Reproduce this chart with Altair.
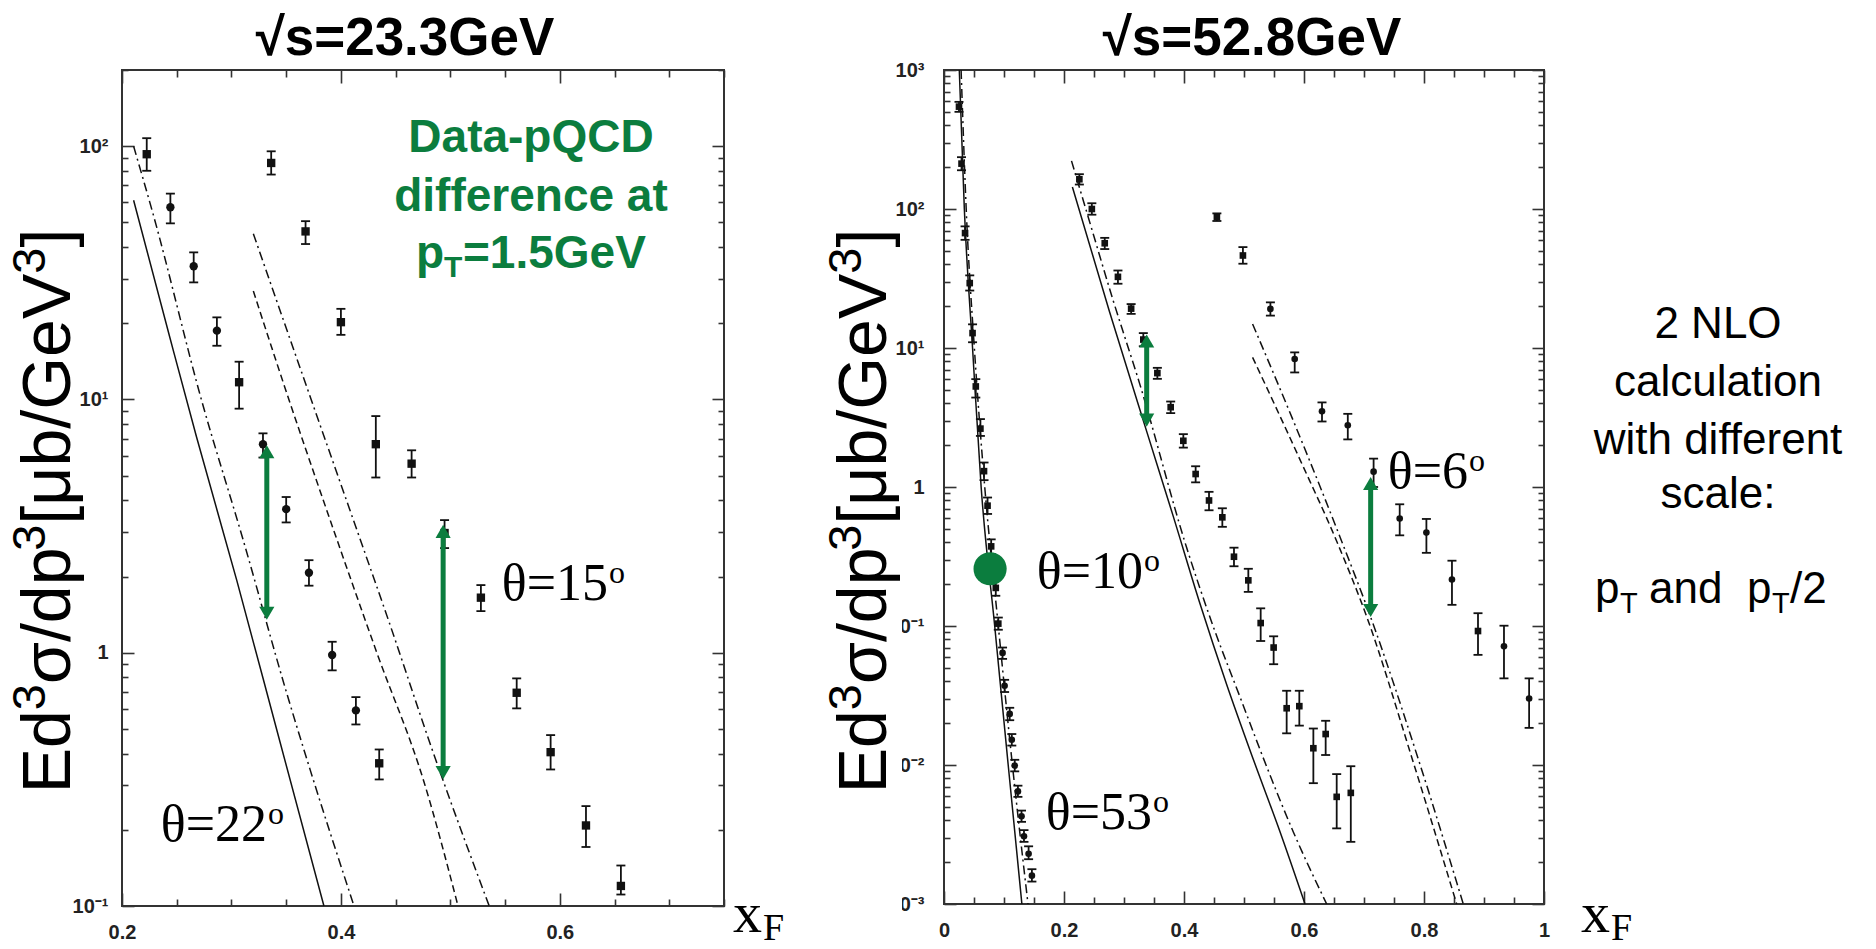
import altair as alt
import pandas as pd

INK = "#111111"
GREEN = "#0b7d3e"
SANS = "Liberation Sans"
SERIF = "Liberation Serif"

# ======================= LEFT PANEL : sqrt(s) = 23.3 GeV =======================
L_XDOM = [0.2, 0.75]
L_YDOM = [0.1, 200]
L_XTICKS = [0.2, 0.25, 0.3, 0.35, 0.4, 0.45, 0.5, 0.55, 0.6, 0.65, 0.7, 0.75]
L_YTICKS = [0.1, 0.2, 0.3, 0.4, 0.5, 0.6, 0.7, 0.8, 0.9, 1, 2, 3, 4, 5, 6, 7, 8, 9,
            10, 20, 30, 40, 50, 60, 70, 80, 90, 100, 200]

# theta = 22 deg data
l22_x = [0.2226, 0.2442, 0.2655, 0.2867, 0.3070, 0.3288, 0.3500, 0.3708, 0.3920, 0.4137, 0.4350]
l22_y = [93.0, 57.4, 33.6, 18.7, 11.7, 6.66, 3.69, 2.07, 0.98, 0.592, 0.366]
l22_lo = [80.0, 49.6, 29.0, 16.3, 9.2, 5.90, 3.27, 1.84, 0.852, 0.521, 0.316]
l22_hi = [107.6, 65.0, 38.1, 21.1, 14.1, 7.35, 4.12, 2.32, 1.105, 0.668, 0.415]
l22_shape = ["square", "circle", "circle", "circle", "square", "circle",
             "circle", "circle", "circle", "circle", "square"]
# theta = 15 deg data
l15_x = [0.3363, 0.3677, 0.4000, 0.4319, 0.4646, 0.4947, 0.5279, 0.5606, 0.5916, 0.6239, 0.6558]
l15_y = [85.9, 46.1, 20.2, 6.66, 5.58, 2.97, 1.65, 0.695, 0.405, 0.208, 0.120]
l15_lo = [77.3, 41.1, 18.0, 4.92, 4.92, 2.59, 1.46, 0.603, 0.346, 0.171, 0.111]
l15_hi = [95.5, 50.6, 22.8, 8.60, 6.30, 3.34, 1.85, 0.792, 0.473, 0.248, 0.1445]
l15_shape = ["square"] * 11

# NLO curves (left)
l22s_x = [0.2106, 0.2436, 0.2681, 0.3048, 0.3415, 0.3845]
l22s_y = [61.2, 17.66, 7.11, 1.936, 0.494, 0.100]
l22d_x = [0.2106, 0.2283, 0.2727, 0.3108, 0.3506, 0.3720, 0.4120]
l22d_y = [100.0, 54.2, 9.93, 2.78, 0.690, 0.344, 0.100]
l15u_x = [0.3200, 0.3690, 0.4087, 0.4454, 0.4821, 0.5355]
l15u_y = [45.1, 11.14, 3.61, 1.27, 0.430, 0.100]
l15l_x = [0.3200, 0.3475, 0.3904, 0.4332, 0.4760, 0.5070]
l15l_y = [26.8, 11.6, 3.32, 0.99, 0.308, 0.100]

# green arrows (left)
la_x = [0.3323, 0.4934]
la_top = [6.6, 3.2]
la_bot = [1.35, 0.317]

# ======================= RIGHT PANEL : sqrt(s) = 52.8 GeV =======================
R_XDOM = [0.0, 1.0]
R_YDOM = [0.001, 1000]
R_XTICKS = [0, 0.05, 0.1, 0.15, 0.2, 0.25, 0.3, 0.35, 0.4, 0.45, 0.5, 0.55, 0.6,
            0.65, 0.7, 0.75, 0.8, 0.85, 0.9, 0.95, 1.0]
R_YTICKS = [0.001, 0.002, 0.003, 0.004, 0.005, 0.006, 0.007, 0.008, 0.009,
            0.01, 0.02, 0.03, 0.04, 0.05, 0.06, 0.07, 0.08, 0.09,
            0.1, 0.2, 0.3, 0.4, 0.5, 0.6, 0.7, 0.8, 0.9,
            1, 2, 3, 4, 5, 6, 7, 8, 9, 10, 20, 30, 40, 50, 60, 70, 80, 90,
            100, 200, 300, 400, 500, 600, 700, 800, 900, 1000]

# theta = 53 deg
r53_x = [0.0250, 0.0292, 0.0351, 0.0429, 0.0476, 0.0530, 0.0607, 0.0667, 0.0726, 0.0786, 0.0863,
         0.0905, 0.0976, 0.1010, 0.1095, 0.1130, 0.1179, 0.1232, 0.1292, 0.1333, 0.1410, 0.1465]
r53_y = [545, 212, 67.1, 29.3, 12.8, 5.29, 2.63, 1.30, 0.734, 0.374, 0.188,
         0.104, 0.064, 0.0372, 0.0233, 0.0152, 0.0099, 0.00646, 0.00427, 0.00307, 0.0023, 0.0016]
r53_lo = [500, 190, 60, 25.9, 11.0, 4.4, 2.33, 1.12, 0.64, 0.33, 0.165,
          0.094, 0.058, 0.0335, 0.021, 0.0138, 0.0090, 0.0059, 0.0039, 0.0028, 0.0021, 0.00145]
r53_hi = [590, 236, 75, 33.3, 14.8, 5.97, 3.08, 1.50, 0.84, 0.42, 0.212,
          0.115, 0.070, 0.041, 0.0258, 0.0167, 0.0109, 0.0071, 0.0047, 0.0034, 0.0026, 0.00178]
r53_shape = ["square"] * 12 + ["circle"] * 10
# theta = 10 deg
r10_x = [0.2256, 0.2464, 0.2679, 0.2899, 0.3119, 0.3322, 0.3556, 0.3778, 0.3989, 0.4194, 0.4417,
         0.4639, 0.4833, 0.5072, 0.5278, 0.5494, 0.5711, 0.5922, 0.6156, 0.6361, 0.6545, 0.6780]
r10_y = [163.7, 100, 56.7, 32.5, 19.2, 11.5, 6.6, 3.75, 2.15, 1.24, 0.80,
         0.605, 0.315, 0.213, 0.105, 0.070, 0.0256, 0.0265, 0.0132, 0.0167, 0.0059, 0.0063]
r10_lo = [150, 91, 51.5, 29.0, 17.6, 10.3, 6.0, 3.4, 1.92, 1.08, 0.68,
          0.517, 0.269, 0.176, 0.078, 0.0531, 0.0169, 0.0192, 0.0074, 0.0118, 0.0035, 0.0028]
r10_hi = [178, 110, 62, 36.1, 20.7, 12.8, 7.2, 4.12, 2.4, 1.41, 0.923,
          0.703, 0.366, 0.258, 0.134, 0.0843, 0.0342, 0.0342, 0.0183, 0.0208, 0.0086, 0.0098]
r10_shape = ["square"] * 22
# theta = 6 deg
r6_x = [0.4548, 0.4982, 0.5440, 0.5845, 0.6300, 0.6730, 0.7160, 0.7595, 0.8040, 0.8466, 0.8900, 0.9333, 0.9752]
r6_y = [87.5, 46.3, 19.1, 8.34, 3.50, 2.78, 1.29, 0.594, 0.470, 0.216, 0.092, 0.0714, 0.0301]
r6_lo = [82, 40.4, 17.1, 6.67, 2.96, 2.20, 1.00, 0.449, 0.336, 0.142, 0.062, 0.042, 0.0185]
r6_hi = [93, 53.2, 21.3, 9.30, 4.06, 3.36, 1.60, 0.751, 0.589, 0.295, 0.1236, 0.1005, 0.042]
r6_shape = ["square", "square", "circle", "circle", "circle", "circle", "circle",
            "circle", "circle", "circle", "square", "circle", "circle"]

# NLO curves (right)
r53s_x = [0.0255, 0.0339, 0.0476, 0.0619, 0.0845, 0.1070, 0.1298]
r53s_y = [1000, 100, 10, 1, 0.1, 0.01, 0.001]
r53d_x = [0.0285, 0.0370, 0.0506, 0.0679, 0.0905, 0.1140, 0.1400]
r53d_y = [1000, 100, 10, 1, 0.1, 0.01, 0.001]
r10s_x = [0.2140, 0.2760, 0.3378, 0.3820, 0.4267, 0.4711, 0.5156, 0.5600, 0.6017]
r10s_y = [143.9, 18.16, 2.512, 0.617, 0.1445, 0.0380, 0.01096, 0.00331, 0.001]
r10d_x = [0.2125, 0.2378, 0.2822, 0.3267, 0.4045, 0.4490, 0.4933, 0.5378, 0.5822, 0.6378]
r10d_y = [222, 95.3, 21.8, 5.43, 0.365, 0.0984, 0.0309, 0.00973, 0.0033, 0.001]
r6u_x = [0.5143, 0.5933, 0.6600, 0.7123, 0.7900, 0.8655]
r6u_y = [14.9, 2.29, 0.437, 0.112, 0.0112, 0.001]
r6l_x = [0.5143, 0.5933, 0.6545, 0.7060, 0.7800, 0.8545]
r6l_y = [8.57, 1.574, 0.407, 0.112, 0.0112, 0.001]

# green arrows / marker (right)
ra_x = [0.3378, 0.7111]
ra_top = [12.5, 1.18]
ra_bot = [2.72, 0.116]
rc_x = [0.0768]
rc_y = [0.258]

# ======================= helpers =======================
DEC = "abs(log(datum.value)/LN10 - round(log(datum.value)/LN10)) < 0.001"
MAJX = "abs(datum.value*5 - round(datum.value*5)) < 0.001"
YLAB = ("(" + DEC + ") ? (datum.value > 999 ? '10³' : datum.value > 99 ? '10²' : "
        "datum.value > 9.9 ? '10¹' : datum.value > 0.99 ? '1' : datum.value > 0.099 ? '10⁻¹' : "
        "datum.value > 0.0099 ? '10⁻²' : '10⁻³') : ''")
XLAB = ("(" + MAJX + ") ? (datum.value < 0.01 ? '0' : datum.value > 0.99 ? '1' : "
        "format(datum.value, '.1f')) : ''")

AX = dict(domain=False, grid=False, ticks=True, tickColor="#333333", tickWidth=1.6,
          labelFont=SANS, labelFontSize=20, labelFontWeight="bold", labelColor="#222222",
          labelFlush=False, labelOverlap=False, title=None)


def series_df(xs, ys, los, his, shapes):
    return pd.DataFrame({"x": xs, "y": ys, "lo": los, "hi": his, "shape": shapes})


def line_df(curves):
    rows = []
    for cid, style, xs, ys in curves:
        for a, b in zip(xs, ys):
            rows.append({"x": a, "y": b, "curve": cid, "style": style})
    return pd.DataFrame(rows)


def texts(rows, **kw):
    df = pd.DataFrame(rows, columns=["px", "py", "t"])
    return alt.Chart(df).mark_text(**kw).encode(
        x=alt.X("px:Q", scale=None, axis=None),
        y=alt.Y("py:Q", scale=None, axis=None),
        text="t:N")


def theta_label(x_right, baseline, main):
    a = texts([(x_right, baseline, main)], font=SERIF, fontSize=52, color="black",
              align="right", baseline="alphabetic")
    b = texts([(x_right + 1, baseline - 17, "o")], font=SERIF, fontSize=32, color="black",
              align="left", baseline="alphabetic")
    return [a, b]


# rotated y-axis title "Ed3σ/dp3[μb/GeV3]" built from pieces (reads bottom to top)
YT_SIZE, YT_SUP = 68, 47
YT_PIECES = [("Ed", False, 1.223), ("3", True, 0.556), ("σ/dp", False, 1.961), ("3", True, 0.556),
             ("[μb/GeV", False, 3.689), ("3", True, 0.556), ("]", False, 0.278)]


def ytitle(x_base, y_center):
    total = sum(w * (YT_SUP if sup else YT_SIZE) for _, sup, w in YT_PIECES)
    y = y_center + total / 2.0
    main_rows, sup_rows = [], []
    for t, sup, w in YT_PIECES:
        if sup:
            sup_rows.append((x_base - 25, y, t))
            y -= w * YT_SUP
        else:
            main_rows.append((x_base, y, t))
            y -= w * YT_SIZE
    return [
        texts(main_rows, font=SANS, fontSize=YT_SIZE, color="black", angle=270,
              align="left", baseline="alphabetic"),
        texts(sup_rows, font=SANS, fontSize=YT_SUP, color="black", angle=270,
              align="left", baseline="alphabetic"),
    ]


def panel(pts, lines, arrows, xdom, ydom, xticks, yticks, W, H, ylpad, extra, msize, blob=None):
    xs = alt.Scale(domain=xdom, nice=False, zero=False)
    ys = alt.Scale(type="log", domain=ydom, nice=False)
    tx = {"expr": "(" + MAJX + ") ? -13 : -7"}
    ty = {"expr": "(" + DEC + ") ? -12 : -6"}
    ax_b = alt.Axis(orient="bottom", values=xticks, labelExpr=XLAB, tickSize=tx,
                    labelPadding=29, **AX)
    ax_t = alt.Axis(orient="top", values=xticks, labels=False, tickSize=tx, **AX)
    ax_l = alt.Axis(orient="left", values=yticks, labelExpr=YLAB, tickSize=ty,
                    labelPadding=ylpad, **AX)
    ax_r = alt.Axis(orient="right", values=yticks, labels=False, tickSize=ty, **AX)

    base = alt.Chart(pts)
    bars = base.mark_rule(color=INK, strokeWidth=1.8).encode(
        x=alt.X("x:Q", scale=xs, axis=ax_b),
        y=alt.Y("lo:Q", scale=ys, axis=ax_l),
        y2="hi:Q")
    marks = base.mark_point(filled=True, color=INK, opacity=1).encode(
        x=alt.X("x:Q", scale=xs, axis=ax_t),
        y=alt.Y("y:Q", scale=ys, axis=ax_r),
        shape=alt.Shape("shape:N", scale=None),
        size=alt.value(msize))
    caps_df = pd.concat([pts[["x", "lo"]].rename(columns={"lo": "v"}),
                         pts[["x", "hi"]].rename(columns={"hi": "v"})])
    caps = alt.Chart(caps_df).mark_rule(color=INK, strokeWidth=1.8, xOffset=-4.5, x2Offset=4.5).encode(
        x=alt.X("x:Q", scale=xs, axis=None), x2="x:Q",
        y=alt.Y("v:Q", scale=ys, axis=None))

    layers = [bars, marks, caps]
    dashes = {"solid": None, "dash": [7, 4], "dashdot": [9, 4, 2, 4]}
    for style, dash in dashes.items():
        sub = lines[lines["style"] == style]
        if len(sub) == 0:
            continue
        kw = dict(color=INK, strokeWidth=1.5, clip=True, interpolate="monotone")
        if dash:
            kw["strokeDash"] = dash
        layers.append(alt.Chart(sub).mark_line(**kw).encode(
            x=alt.X("x:Q", scale=xs, axis=None),
            y=alt.Y("y:Q", scale=ys, axis=None),
            detail="curve:N"))

    adf = arrows
    layers.append(alt.Chart(adf).mark_rule(color=GREEN, strokeWidth=5, yOffset=10, y2Offset=-10).encode(
        x=alt.X("x:Q", scale=xs, axis=None),
        y=alt.Y("top:Q", scale=ys, axis=None), y2="bot:Q"))
    layers.append(alt.Chart(adf).mark_point(shape="triangle-up", filled=True, opacity=1, size=230,
                                            color=GREEN, yOffset=6.5).encode(
        x=alt.X("x:Q", scale=xs, axis=None), y=alt.Y("top:Q", scale=ys, axis=None)))
    layers.append(alt.Chart(adf).mark_point(shape="triangle-down", filled=True, opacity=1, size=230,
                                            color=GREEN, yOffset=-6.5).encode(
        x=alt.X("x:Q", scale=xs, axis=None), y=alt.Y("bot:Q", scale=ys, axis=None)))
    if blob is not None:
        layers.append(alt.Chart(blob).mark_point(shape="circle", filled=True, opacity=1, size=1100,
                                                 color=GREEN).encode(
            x=alt.X("x:Q", scale=xs, axis=None), y=alt.Y("y:Q", scale=ys, axis=None)))
    layers += extra
    return alt.layer(*layers).resolve_axis(x="independent", y="independent").properties(
        width=W, height=H)


# ======================= left panel =======================
left_pts = pd.concat([series_df(l22_x, l22_y, l22_lo, l22_hi, l22_shape),
                      series_df(l15_x, l15_y, l15_lo, l15_hi, l15_shape)])
left_lines = line_df([("a", "solid", l22s_x, l22s_y), ("b", "dashdot", l22d_x, l22d_y),
                      ("c", "dashdot", l15u_x, l15u_y), ("d", "dash", l15l_x, l15l_y)])
left_arrows = pd.DataFrame({"x": la_x, "top": la_top, "bot": la_bot})

left_extra = [
    texts([(283, -15, "√s=23.3GeV")], font=SANS, fontSize=53, fontWeight="bold",
          color="black", align="center", baseline="alphabetic"),
    texts([(409, 82, "Data-pQCD"), (409, 141, "difference at")], font=SANS, fontSize=46,
          fontWeight="bold", color=GREEN, align="center", baseline="alphabetic"),
    texts([(294, 198, "p"), (341, 198, "=1.5GeV")], font=SANS, fontSize=46,
          fontWeight="bold", color=GREEN, align="left", baseline="alphabetic"),
    texts([(322, 207, "T")], font=SANS, fontSize=30, fontWeight="bold", color=GREEN,
          align="left", baseline="alphabetic"),
    texts([(611, 862, "x")], font=SERIF, fontSize=58, color="black", align="left",
          baseline="alphabetic"),
    texts([(641, 870, "F")], font=SERIF, fontSize=38, color="black", align="left",
          baseline="alphabetic"),
] + ytitle(-52, 441) + theta_label(145, 771, "θ=22") + theta_label(486, 530, "θ=15")

left = panel(left_pts, left_lines, left_arrows, L_XDOM, L_YDOM, L_XTICKS, L_YTICKS,
             602, 836, 26, left_extra, 70)

# ======================= right panel =======================
right_pts = pd.concat([series_df(r53_x, r53_y, r53_lo, r53_hi, r53_shape),
                       series_df(r10_x, r10_y, r10_lo, r10_hi, r10_shape),
                       series_df(r6_x, r6_y, r6_lo, r6_hi, r6_shape)])
right_lines = line_df([("a", "solid", r53s_x, r53s_y), ("b", "dashdot", r53d_x, r53d_y),
                       ("c", "solid", r10s_x, r10s_y), ("d", "dashdot", r10d_x, r10d_y),
                       ("e", "dashdot", r6u_x, r6u_y), ("f", "dash", r6l_x, r6l_y)])
right_arrows = pd.DataFrame({"x": ra_x, "top": ra_top, "bot": ra_bot})
right_blob = pd.DataFrame({"x": rc_x, "y": rc_y})

cover = alt.Chart(pd.DataFrame({"x1": [-112], "x2": [-42], "y1": [490], "y2": [860]})).mark_rect(
    color="white").encode(x=alt.X("x1:Q", scale=None, axis=None), x2="x2:Q",
                          y=alt.Y("y1:Q", scale=None, axis=None), y2="y2:Q")

right_extra = [
    cover,
    texts([(308, -15, "√s=52.8GeV")], font=SANS, fontSize=53, fontWeight="bold",
          color="black", align="center", baseline="alphabetic"),
    texts([(637, 862, "x")], font=SERIF, fontSize=58, color="black", align="left",
          baseline="alphabetic"),
    texts([(667, 870, "F")], font=SERIF, fontSize=38, color="black", align="left",
          baseline="alphabetic"),
    texts([(774, 268, "2 NLO"), (774, 326, "calculation"), (774, 384, "with different"),
           (774, 438, "scale:")], font=SANS, fontSize=44, color="black", align="center",
          baseline="alphabetic"),
    texts([(651, 533, "p"), (705, 533, "and"), (803, 533, "p"), (846, 533, "/2")], font=SANS,
          fontSize=44, color="black", align="left", baseline="alphabetic"),
    texts([(676, 543, "T"), (828, 543, "T")], font=SANS, fontSize=29, color="black",
          align="left", baseline="alphabetic"),
] + ytitle(-58, 441) + theta_label(199, 518, "θ=10") + theta_label(208, 759, "θ=53") \
  + theta_label(524, 418, "θ=6")

right = panel(right_pts, right_lines, right_arrows, R_XDOM, R_YDOM, R_XTICKS, R_YTICKS,
              600, 834, 32, right_extra, 44, blob=right_blob)

chart = alt.hconcat(left, right, spacing=220, bounds="flush").properties(
    autosize=alt.AutoSizeParams(type="none"),
    padding={"left": 122, "top": 70, "right": 1754, "bottom": 879},
    background="white",
).configure_view(stroke="#333333", strokeWidth=2)

chart.save("out.html", embed_options={"renderer": "svg", "actions": False})
